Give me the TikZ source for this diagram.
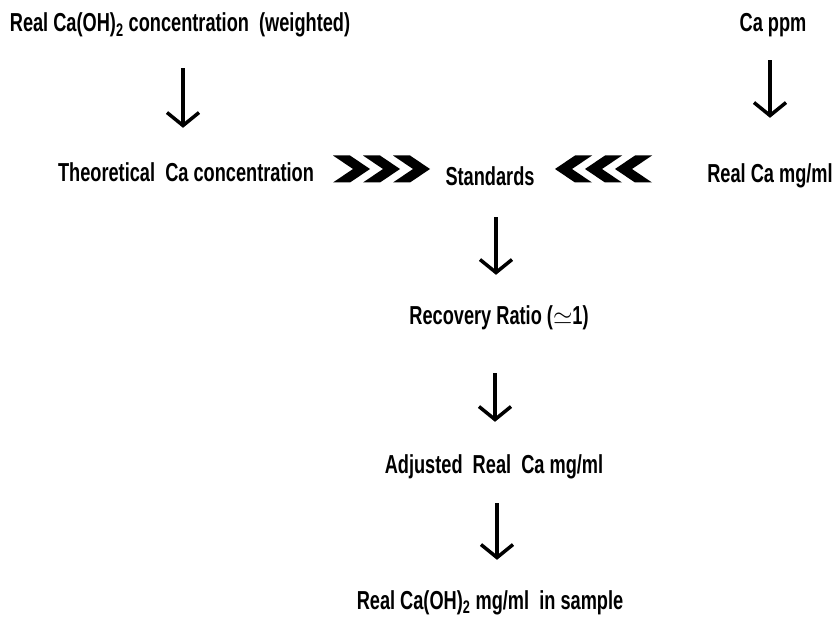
\documentclass[tikz,border=0pt]{standalone}
\usepackage{fontspec}
\setmainfont[FakeStretch=0.7]{Liberation Sans}
\usetikzlibrary{arrows.meta}

\tikzset{
	lbl/.style={font=\bfseries\fontsize{26}{30}\selectfont, inner sep=0pt, anchor=base, text height=20pt, text depth=6pt},
	flow/.style={line width=3.5pt, -{Straight Barb[length=13pt, width=32pt]}},
	chev/.pic={
		\foreach \k in {0,1,2}
			\fill[xshift=\k*30pt] (0,13.5) -- (17,13.5) -- (37,0) -- (17,-13.5) -- (0,-13.5) -- (20,0) -- cycle;
	}
}

\begin{document}
\begin{tikzpicture}[x=1pt, y=-1pt]
	\useasboundingbox (0,0) rectangle (835,617);

	\node[lbl] (weighted) at (180,32) {Real Ca(OH)\textsubscript{2} concentration\ \ (weighted)};
	\node[lbl] (cappm) at (773,32) {Ca ppm};
	\node[lbl] (theo) at (186,182) {Theoretical\ \ Ca concentration};
	\node[lbl] (standards) at (490,186) {Standards};
	\node[lbl] (realca) at (770,183) {Real Ca mg/ml};
	\node[lbl] (recovery) at (499,325) {Recovery Ratio ($\simeq$1)};
	\node[lbl] (adjusted) at (494,473) {Adjusted\ \ Real\ \ Ca mg/ml};
	\node[lbl] (sample) at (490,609) {Real Ca(OH)\textsubscript{2} mg/ml\ \ in sample};

	% arrows down
	\draw[flow, shorten <=30pt, shorten >=34pt] ([xshift=3pt]weighted.south) -- ([xshift=3pt]weighted.south |- theo.north);
	\draw[flow, shorten <=22pt, shorten >=45pt] (realca.north |- cappm.south) -- (realca.north);
	\draw[flow, shorten <=25pt, shorten >=30pt] ([xshift=6pt]standards.south) -- ([xshift=6pt]standards.south |- recovery.north);
	\draw[flow, shorten <=42pt, shorten >=31pt] ([xshift=-4pt]recovery.south) -- ([xshift=-4pt]recovery.south |- adjusted.north);
	\draw[flow, shorten <=24pt, shorten >=29pt] ([xshift=3pt]adjusted.south) -- ([xshift=3pt]adjusted.south |- sample.north);

	% chevrons into standards
	\pic at ([xshift=-157pt, yshift=17pt]standards.base) {chev};
	\pic[xscale=-1] at ([xshift=162pt, yshift=17pt]standards.base) {chev};
\end{tikzpicture}
\end{document}
